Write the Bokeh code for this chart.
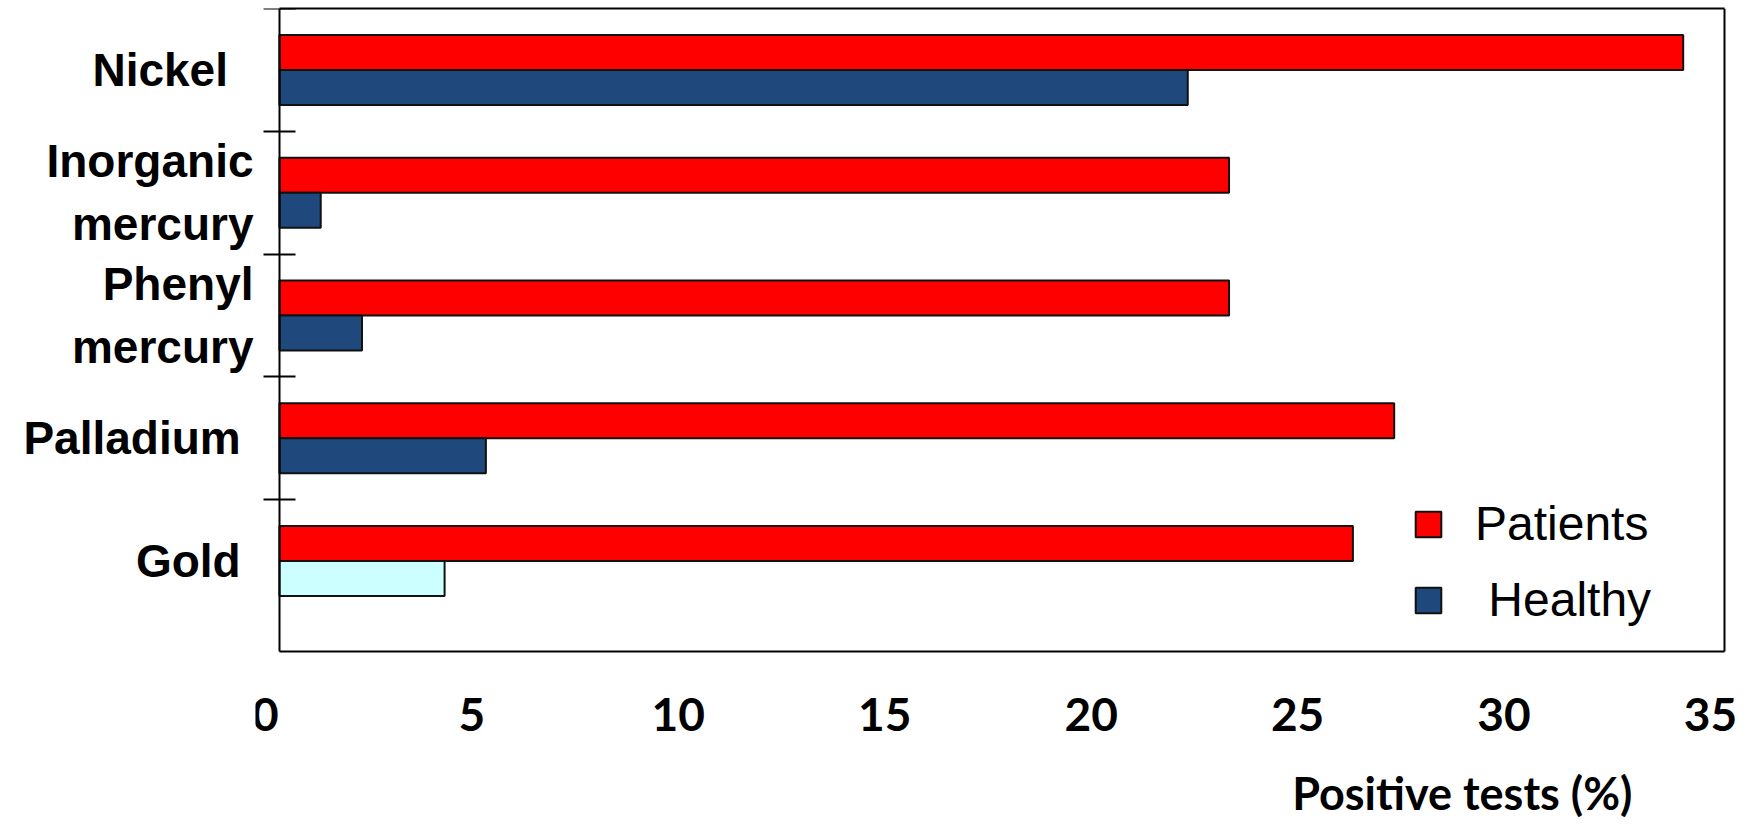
from bokeh.plotting import figure
from bokeh.models import (Range1d, FixedTicker, Legend, LegendItem, LinearAxis,
                          ColumnDataSource)
from bokeh.core.properties import value
from bokeh.embed import file_html
from bokeh.resources import INLINE

# --- data -------------------------------------------------------------
allergens = ["Nickel\u00a0\u00a0", "Inorganic\nmercury", "Phenyl\nmercury",
             "Palladium\u00a0", "Gold\u00a0"]
patients = [34, 23, 23, 27, 26]
healthy = [22, 1, 2, 5, 4]
x_ticks = [0, 5, 10, 15, 20, 25, 30, 35]
x_max = 35
x_title = "Positive tests (%)"

# --- styles / layout constants ----------------------------------------
RED = "#FF0000"
NAVY = "#1F497D"
PALE = "#CCFFFF"
EDGE = "#111111"
healthy_fill = [NAVY, NAVY, NAVY, NAVY, PALE]
BAR_H = 0.285
X_PAD = 0.58          # blank strip left of zero inside the plotting area
X_END = x_max + 0.63  # room right of the box for the last value label
LAB_START = -0.24     # value labels sit a little left of their bar positions
BASE = -0.236         # lower edge of the boxed chart area
Y_LO = -1.645         # room under the box for the value labels and title
TICK_Y = -0.615       # top of the value labels
TITLE_Y = -1.17       # top of the value-axis title
TITLE_X = 32.77       # right end of the value-axis title
LABEL_FONT = "Liberation Sans"
TICK_FONT = "Lato"

n = len(allergens)
centers = [n - 1 - i + 0.5 for i in range(n)]
bounds = [float(k) for k in range(1, n + 1)]

src = ColumnDataSource(dict(
    patients=patients,
    healthy=healthy,
    y_pat=[c + BAR_H / 2 for c in centers],
    y_hea=[c - BAR_H / 2 for c in centers],
    hfill=healthy_fill,
))

p = figure(width=1754, height=824, output_backend="svg", toolbar_location=None,
           x_range=Range1d(-X_PAD, X_END), y_range=Range1d(Y_LO, n),
           x_axis_location=None, y_axis_location=None,
           min_border_left=255, min_border_right=4,
           min_border_top=8, min_border_bottom=0)
p.extra_x_ranges = {"lab": Range1d(LAB_START, LAB_START + X_END + X_PAD)}
p.grid.visible = False
p.outline_line_color = None
p.background_fill_color = "white"
p.border_fill_color = "white"

r_pat = p.hbar(y="y_pat", right="patients", left=0, height=BAR_H, source=src,
               fill_color=RED, line_color=EDGE, line_width=2)
r_hea = p.hbar(y="y_hea", right="healthy", left=0, height=BAR_H, source=src,
               fill_color="hfill", line_color=EDGE, line_width=2)


def bare_axis(**kw):
    """An axis with no ticks and no tick labels: just an edge line."""
    opts = dict(axis_line_color="black", axis_line_width=2,
                major_tick_out=0, major_tick_in=0,
                minor_tick_out=0, minor_tick_in=0,
                major_label_standoff=0)
    opts.update(kw)
    return LinearAxis(ticker=FixedTicker(ticks=[], minor_ticks=[]), **opts)


# box round the bars
p.add_layout(bare_axis(bounds=(0, x_max)), "above")
p.add_layout(bare_axis(bounds=(BASE, n), fixed_location=x_max), "right")
p.add_layout(bare_axis(bounds=(0, x_max), fixed_location=BASE), "below")

# vertical axis line at x = 0 with ticks between the groups
zero_axis = LinearAxis(ticker=FixedTicker(ticks=[], minor_ticks=bounds),
                       fixed_location=0, bounds=(BASE, n),
                       axis_line_color="black", axis_line_width=2,
                       major_tick_out=0, major_tick_in=0,
                       minor_tick_in=16, minor_tick_out=16,
                       minor_tick_line_color="black", minor_tick_line_width=2,
                       major_label_standoff=0)
p.add_layout(zero_axis, "right")

# category names
yax = LinearAxis(ticker=FixedTicker(ticks=centers, minor_ticks=[]))
yax.major_label_overrides = {c: name for c, name in zip(centers, allergens)}
yax.axis_line_color = None
yax.major_tick_line_color = None
yax.major_tick_in = 0
yax.major_tick_out = 0
yax.major_label_standoff = 2
yax.major_label_text_font = LABEL_FONT
yax.major_label_text_font_style = "bold"
yax.major_label_text_font_size = "46px"
yax.major_label_text_color = "black"
p.add_layout(yax, "left")

# value labels and value-axis title under the box
p.text(x=x_ticks, y=TICK_Y, text=[str(t) for t in x_ticks], x_range_name="lab",
       text_align="center", text_baseline="top", text_color="black",
       text_font=value(TICK_FONT), text_font_style="bold", text_font_size="46px")
p.text(x=[TITLE_X], y=[TITLE_Y], text=[x_title],
       text_align="right", text_baseline="top", text_color="black",
       text_font=value(TICK_FONT), text_font_style="bold", text_font_size="45px")

legend = Legend(items=[LegendItem(label="Patients", renderers=[r_pat], index=0),
                       LegendItem(label="\u00a0Healthy", renderers=[r_hea], index=0)],
                location=(1157, 197), orientation="vertical",
                glyph_width=32, glyph_height=32, label_standoff=31,
                spacing=21, padding=0, margin=0,
                border_line_color=None, background_fill_alpha=0,
                label_text_font=LABEL_FONT, label_text_font_size="48px",
                label_text_color="black")
p.add_layout(legend)

open("out.html", "w").write(file_html(p, INLINE))
